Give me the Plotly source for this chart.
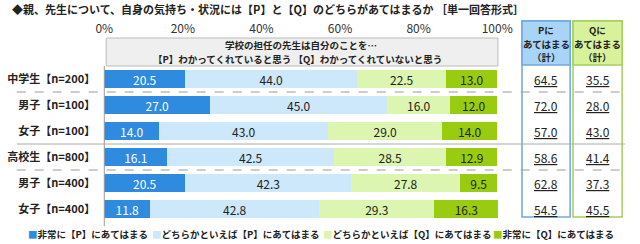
import plotly.graph_objects as go

categories = ["中学生【n=200】", "男子【n=100】", "女子【n=100】",
              "高校生【n=800】", "男子【n=400】", "女子【n=400】"]
series_names = ["非常に【P】にあてはまる", "どちらかといえば【P】にあてはまる",
                "どちらかといえば【Q】にあてはまる", "非常に【Q】にあてはまる"]
very_p = [20.5, 27.0, 14.0, 16.1, 20.5, 11.8]
some_p = [44.0, 45.0, 43.0, 42.5, 42.3, 42.8]
some_q = [22.5, 16.0, 29.0, 28.5, 27.8, 29.3]
very_q = [13.0, 12.0, 14.0, 12.9, 9.5, 16.3]
p_total = ["64.5", "72.0", "57.0", "58.6", "62.8", "54.5"]
q_total = ["35.5", "28.0", "43.0", "41.4", "37.3", "45.5"]
x_ticks = [0, 20, 40, 60, 80, 100]

colors = ["#2f8be0", "#cde8fa", "#dcf5b0", "#99cc11"]
text_colors = ["white", "#222", "#222", "#222"]

W, H = 640, 244
FONT = "Noto Sans CJK JP"

def py(px):
    return (H - px) / H

def px_x(px):
    return px / W

fig = go.Figure()
for name, vals, c, tc in zip(series_names, [very_p, some_p, some_q, very_q], colors, text_colors):
    fig.add_trace(go.Bar(
        y=list(range(len(categories))), x=vals, orientation="h", name=name,
        marker=dict(color=c, line=dict(width=0)),
        text=[f"{v:.1f}" for v in vals], textposition="inside", insidetextanchor="middle",
        textangle=0, constraintext="none",
        textfont=dict(color=tc, size=12, family=FONT), showlegend=False,
        width=0.66,
    ))

row_top, row_bot = 79, 209  # pixel centers of first and last row
step = (row_bot - row_top) / (len(categories) - 1)
y_top_px = row_top - step / 2
y_bot_px = row_bot + step / 2

x0px, x1px = 99, 508

fig.update_layout(
    width=W, height=H, margin=dict(l=0, r=0, t=0, b=0),
    paper_bgcolor="white", plot_bgcolor="white",
    barmode="stack", bargap=0,
    font=dict(family=FONT, size=12, color="#222"),
    xaxis=dict(domain=[px_x(x0px), px_x(x1px)], range=[0, 100.2], side="top",
               anchor="free", position=py(35), tickvals=x_ticks,
               ticktext=[f"{t}%" for t in x_ticks], showgrid=False, zeroline=False,
               showline=False, ticks="", tickfont=dict(size=12, color="#333")),
    yaxis=dict(domain=[py(y_bot_px), py(y_top_px)], range=[len(categories) - 0.5, -0.5],
               tickvals=list(range(len(categories))), ticktext=[f"<b>{c}</b>" for c in categories],
               showgrid=False, zeroline=False, showline=False, ticks="",
               ticklabelstandoff=8, tickfont=dict(size=11, color="#222")),
)

shapes = []
# vertical axis line
shapes.append(dict(type="line", xref="paper", yref="paper", x0=px_x(x0px), x1=px_x(x0px),
                   y0=py(y_top_px), y1=py(y_bot_px + 4), line=dict(color="#999", width=1)))
# header box
shapes.append(dict(type="rect", xref="paper", yref="paper", x0=px_x(x0px + 2), x1=px_x(x1px),
                   y0=py(66), y1=py(38), fillcolor="#efefef", line=dict(color="#bbb", width=1),
                   layer="below"))
# right columns
colP = (533, 583)
colQ = (586, 637)
for (a, b), fill, border in [(colP, "#a8d4f7", "#6fa8dc"), (colQ, "#d8f29c", "#a5cf5a")]:
    shapes.append(dict(type="rect", xref="paper", yref="paper", x0=px_x(a), x1=px_x(b),
                       y0=py(217), y1=py(21), fillcolor="white", line=dict(color=border, width=1.5)))
    shapes.append(dict(type="rect", xref="paper", yref="paper", x0=px_x(a), x1=px_x(b),
                       y0=py(65), y1=py(21), fillcolor=fill, line=dict(color=border, width=1.5)))
# separators
for i, dash in [(0, "dash"), (2, "solid"), (3, "dash")]:
    ypx = row_top + step * (i + 0.5)
    shapes.append(dict(type="line", xref="paper", yref="paper", x0=px_x(8), x1=1,
                       y0=py(ypx), y1=py(ypx),
                       line=dict(color="#999" if dash == "dash" else "#aaa", width=1, dash=dash)))
fig.update_layout(shapes=shapes)

ann = []
ann.append(dict(text="<b>◆親、先生について、自身の気持ち・状況には【P】と【Q】のどちらがあてはまるか ［単一回答形式］</b>",
                xref="paper", yref="paper", x=px_x(1), y=py(9), xanchor="left", yanchor="middle",
                showarrow=False, font=dict(size=11, color="#222")))
ann.append(dict(text="<b>学校の担任の先生は自分のことを…</b>", xref="paper", yref="paper",
                x=px_x(303), y=py(45), xanchor="center", yanchor="middle", showarrow=False,
                borderpad=0, font=dict(size=9.5, color="#222")))
ann.append(dict(text="<b>【P】わかってくれていると思う 【Q】わかってくれていないと思う</b>", xref="paper", yref="paper",
                x=px_x(300), y=py(59.5), xanchor="center", yanchor="middle", showarrow=False,
                borderpad=0, font=dict(size=9.5, color="#222")))
for (a, b), lbl in [(colP, "P"), (colQ, "Q")]:
    for line_txt, ly in [(f"{lbl}に", 30), ("あてはまる", 44), ("（計）", 57)]:
        ann.append(dict(text=f"<b>{line_txt}</b>", xref="paper", yref="paper",
                        x=px_x((a + b) / 2), y=py(ly), xanchor="center", yanchor="middle",
                        showarrow=False, align="center", font=dict(size=9.5, color="#222")))
for i in range(len(categories)):
    ypx = row_top + step * i
    for (a, b), vals in [(colP, p_total), (colQ, q_total)]:
        ann.append(dict(text=f"<u>{vals[i]}</u>", xref="paper", yref="paper",
                        x=px_x((a + b) / 2), y=py(ypx), xanchor="center", yanchor="middle",
                        showarrow=False, font=dict(size=12, color="#222")))
# legend
leg_x = [18, 146, 324, 501]
for name, c, lx in zip(series_names, colors, leg_x):
    ann.append(dict(text=f"<span style='color:{c}'>■</span><b>{name}</b>", xref="paper", yref="paper",
                    x=px_x(lx), y=py(234), xanchor="left", yanchor="middle", showarrow=False,
                    font=dict(size=9.5, color="#222")))
fig.update_layout(annotations=ann)

fig.write_html("out.html")
